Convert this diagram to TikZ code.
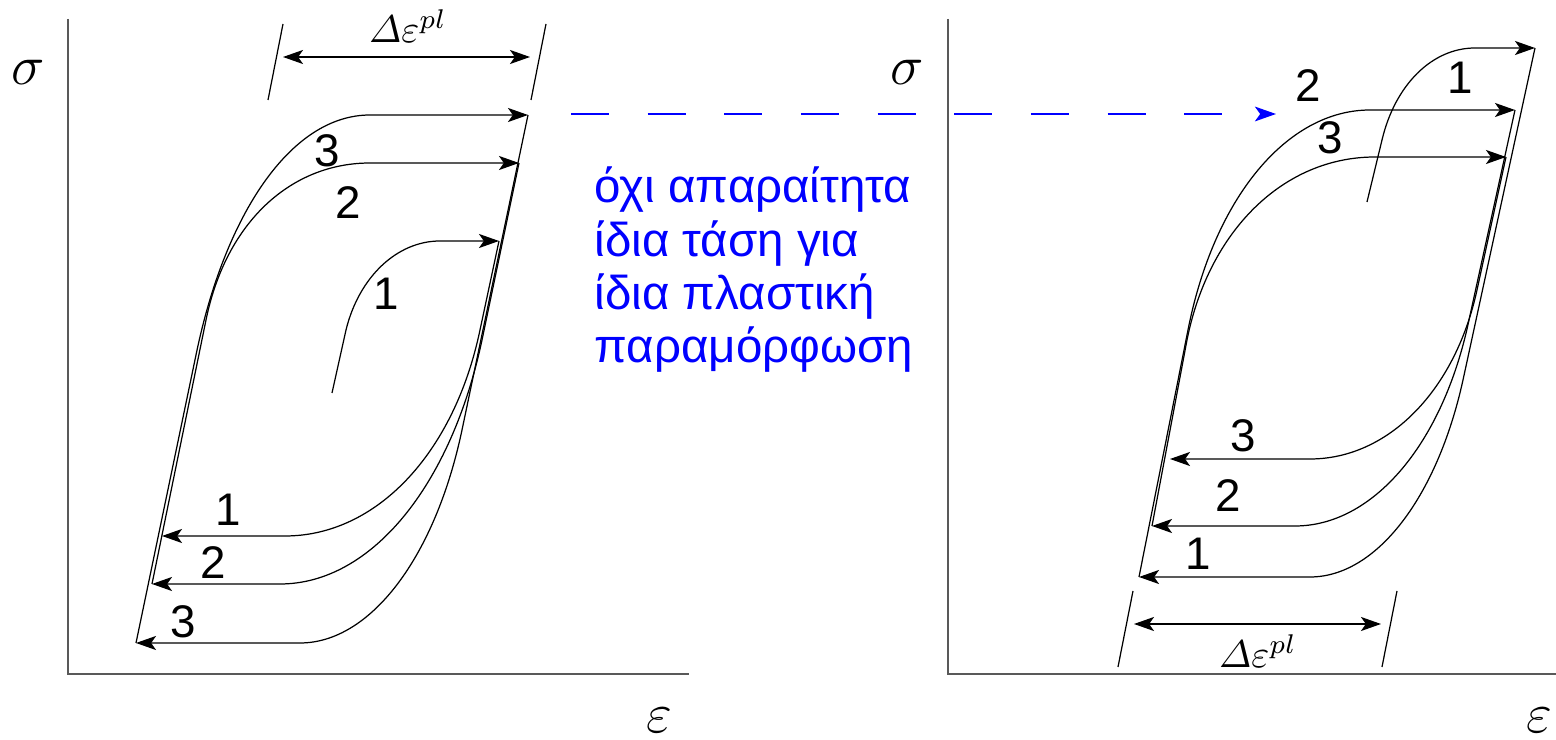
\documentclass[tikz,border=0pt]{standalone}
\usepackage{fix-cm}
\usepackage{amsmath}
\usepackage{fontspec}
\newfontfamily\arialfont{Liberation Sans}
\usetikzlibrary{arrows.meta}

\begin{document}
\begin{tikzpicture}[x=0.01cm,y=-0.01cm,
axis/.style={draw=black!65,line width=.5pt},
branch/.style={line width=.35pt,-{Stealth[length=5.7pt,width=4pt,inset=1.4pt]}},
span/.style={line width=.35pt,{Stealth[length=5.7pt,width=4pt,inset=1.4pt]}-{Stealth[length=5.7pt,width=4pt,inset=1.4pt]}},
tickline/.style={line width=.35pt},
num/.style={font=\arialfont\fontsize{13}{15}\selectfont,inner sep=0pt},
sym/.style={font=\fontsize{16}{19}\selectfont,inner sep=0pt,anchor=base},
dpl/.style={font=\fontsize{11}{13}\selectfont,inner sep=0pt,anchor=base}]
\useasboundingbox (0,0) rectangle (1556,740);

% axes
\coordinate (O1) at (68,674);
\coordinate (O2) at (948,674);
\draw[axis] (68,19) -- (O1) -- (689,674);
\draw[axis] (948,19) -- (O2) -- (1556,674);
\node[sym] (s1) at (28,85) {$\sigma$};
\node[sym] (s2) at (907,85) {$\sigma$};
\node[sym] (e1) at (659,733) {$\varepsilon$};
\node[sym] (e2) at (1539,733) {$\varepsilon$};

% left loops
\coordinate (a1) at (499,241);
\coordinate (a2) at (519,163);
\coordinate (a3) at (528,115);
\coordinate (b1) at (162,536);
\coordinate (b2) at (152,584);
\coordinate (b3) at (136,643);
\draw[branch] (332,393) -- (346,330) .. controls (359,277) and (397,241) .. (440,241) -- (a1);
\draw[branch] (b2) -- (206,320) .. controls (226,222) and (291,163) .. (370,163) -- (a2);
\draw[branch] (b3) -- (196,355) .. controls (225,214) and (291,115) .. (370,115) -- (a3);
\draw[branch] (a1) -- (480,330) .. controls (454,454) and (376,536) .. (285,536) -- (b1);
\draw[branch] (a2) -- (482,340) .. controls (451,486) and (371,584) .. (280,584) -- (b2);
\draw[branch] (a3) -- (462,430) .. controls (435,558) and (370,643) .. (300,643) -- (b3);
\node[num] (lu1) at (386,294) {1};
\node[num] (lu2) at (348,203) {2};
\node[num] (lu3) at (327,151) {3};
\node[num] (ll1) at (228,510) {1};
\node[num] (ll2) at (213,563) {2};
\node[num] (ll3) at (183,622) {3};

% left plastic strain range
\draw[tickline] (283,24) -- (268,100);
\draw[tickline] (546,24) -- (531,100);
\draw[span] (283,57) -- (530,57);
\node[dpl] (d1) at (408,43) {$\varDelta\varepsilon^{pl}$};

% right loops
\coordinate (c1) at (1535,48);
\coordinate (c2) at (1515,110);
\coordinate (c3) at (1506,157);
\coordinate (f1) at (1139,577);
\coordinate (f2) at (1152,526);
\coordinate (f3) at (1170,459);
\draw[branch] (1367,202) -- (1382,140) .. controls (1395,85) and (1432,48) .. (1475,48) -- (c1);
\draw[branch] (f1) -- (1188,330) .. controls (1214,198) and (1287,110) .. (1370,110) -- (c2);
\draw[branch] (f2) -- (1187,340) .. controls (1209,230) and (1284,157) .. (1375,157) -- (c3);
\draw[branch] (c1) -- (1463,380) .. controls (1437,498) and (1376,577) .. (1310,577) -- (f1);
\draw[branch] (c2) -- (1469,320) .. controls (1443,444) and (1373,526) .. (1295,526) -- (f2);
\draw[branch] (c3) -- (1477,290) .. controls (1455,391) and (1388,459) .. (1310,459) -- (f3);
\node[num] (ru1) at (1460,78) {1};
\node[num] (ru2) at (1308,86) {2};
\node[num] (ru3) at (1330,138) {3};
\node[num] (rl1) at (1198,554) {1};
\node[num] (rl2) at (1228,496) {2};
\node[num] (rl3) at (1243,436) {3};

% right plastic strain range
\draw[tickline] (1133,591) -- (1118,667);
\draw[tickline] (1397,591) -- (1382,667);
\draw[span] (1134,624) -- (1381,624);
\node[dpl] (d2) at (1258,668) {$\varDelta\varepsilon^{pl}$};

% same strain, other stress
\coordinate (from) at (571,114);
\coordinate (to) at (1276,114);
\draw[blue,line width=.4pt,dash pattern=on 10.8pt off 11pt,
  -{Stealth[length=6pt,width=4.2pt,inset=1.5pt]}] (from) -- (to);
\node[anchor=base west,align=left,text=blue,inner sep=0pt,
  font=\arialfont\fontsize{13.5}{15.2}\selectfont] (note) at (594,363)
  {όχι απαραίτητα\\ίδια τάση για\\ίδια πλαστική\\παραμόρφωση};
\end{tikzpicture}
\end{document}
